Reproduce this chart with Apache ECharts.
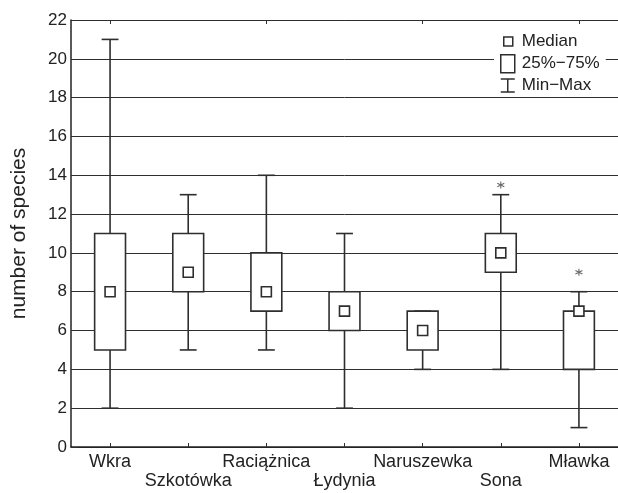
<!DOCTYPE html>
<html>
<head>
<meta charset="utf-8">
<script src="https://cdn.jsdelivr.net/npm/echarts@6/dist/echarts.min.js"></script>
<style>html,body{margin:0;padding:0;background:#fff;}#c{width:618px;height:493px;}</style>
</head>
<body>
<div id="c"></div>
<script>
const categories = ['Wkra', 'Szkotówka', 'Raciążnica', 'Łydynia', 'Naruszewka', 'Sona', 'Mławka'];
const minVals    = [2, 5, 5, 2, 4, 4, 1];
const q1Vals     = [5, 8, 7, 6, 5, 9, 4];
const medianVals = [8, 9, 8, 7, 6, 10, 7];
const q3Vals     = [11, 11, 10, 8, 7, 11, 7];
const maxVals    = [21, 13, 14, 11, 7, 13, 8];
const outlierCats = ['Sona', 'Mławka'];
const outlierVals = [13.5, 9];
const yMin = 0, yMax = 22, yStep = 2;
const legendNames = ['Median', '25%−75%', 'Min−Max'];

const INK = '#2e2e2e';
const FONT = 'Liberation Sans, Arial, sans-serif';

const whiskerData = categories.map((c, i) => [i, minVals[i], maxVals[i]]);
const boxData = categories.map((c, i) => [i, q1Vals[i], q3Vals[i]]);
const medianData = categories.map((c, i) => [i, medianVals[i]]);
const outlierData = outlierCats.map((c, k) => [categories.indexOf(c), outlierVals[k]]);

const chart = echarts.init(document.getElementById('c'), null, {renderer: 'canvas'});

const legendBase = {
  orient: 'horizontal',
  selectedMode: false,
  itemGap: 0,
  textStyle: {fontFamily: FONT, fontSize: 17, color: '#222'},
  itemStyle: {color: '#fff', borderColor: INK, borderWidth: 1.5}
};

chart.setOption({
  animation: false,
  backgroundColor: '#fff',
  grid: {left: 71, right: -2, top: 20, bottom: 46, containLabel: false},
  legend: [
    Object.assign({}, legendBase, {
      data: [{name: legendNames[0], icon: 'rect'}],
      left: 503, top: 33, itemWidth: 9, itemHeight: 9, padding: 0,
      textStyle: Object.assign({}, legendBase.textStyle, {padding: [0, 0, 0, 4]})
    }),
    Object.assign({}, legendBase, {
      data: [{name: legendNames[1], icon: 'rect'}],
      left: 494, top: 52, itemWidth: 14, itemHeight: 18, padding: [2, 6, 2, 6],
      backgroundColor: '#fff',
      textStyle: Object.assign({}, legendBase.textStyle, {padding: [0, 0, 0, 2]})
    }),
    Object.assign({}, legendBase, {
      data: [{name: legendNames[2], icon: 'path://M0 0H14M7 0V13M0 13H14'}],
      left: 500, top: 77, itemWidth: 14, itemHeight: 13, padding: 0,
      textStyle: Object.assign({}, legendBase.textStyle, {padding: [0, 0, 0, 2]})
    })
  ],
  xAxis: [
    {
      type: 'category', data: categories, boundaryGap: true, position: 'bottom',
      axisLine: {show: true, lineStyle: {color: '#222', width: 1.5}},
      axisTick: {show: true, inside: true, alignWithLabel: true, length: 4, lineStyle: {color: INK}},
      axisLabel: {
        fontFamily: FONT, fontSize: 18, color: '#222', margin: 6, lineHeight: 19,
        interval: 0,
        formatter: (v, i) => (i % 2 === 1 ? '\n' + v : v)
      },
      splitLine: {show: false}
    },
    {
      type: 'category', data: categories, boundaryGap: true, position: 'top',
      axisLine: {show: true, lineStyle: {color: INK, width: 1}},
      axisTick: {show: true, inside: true, alignWithLabel: true, length: 4, lineStyle: {color: INK}},
      axisLabel: {show: false},
      splitLine: {show: false}
    }
  ],
  yAxis: {
    type: 'value', min: yMin, max: yMax, interval: yStep,
    name: 'number of species', nameLocation: 'middle', nameGap: 41,
    nameTextStyle: {fontFamily: FONT, fontSize: 21, color: '#222'},
    axisLine: {show: true, lineStyle: {color: '#222', width: 1.5}},
    axisTick: {show: true, inside: true, length: 7, lineStyle: {color: INK}},
    axisLabel: {fontFamily: FONT, fontSize: 17, color: '#222', margin: 4},
    splitLine: {show: true, lineStyle: {color: INK, width: 1}}
  },
  series: [
    {
      name: legendNames[2], type: 'custom', xAxisIndex: 0, data: whiskerData,
      encode: {x: 0, y: [1, 2]}, z: 3,
      renderItem: (params, api) => {
        const x = api.value(0);
        const lo = api.coord([x, api.value(1)]);
        const hi = api.coord([x, api.value(2)]);
        const half = api.size([1, 0])[0] * 0.108;
        const st = {stroke: INK, lineWidth: 1.6};
        return {type: 'group', children: [
          {type: 'line', shape: {x1: lo[0], y1: lo[1], x2: hi[0], y2: hi[1]}, style: st},
          {type: 'line', shape: {x1: lo[0] - half, y1: lo[1], x2: lo[0] + half, y2: lo[1]}, style: st},
          {type: 'line', shape: {x1: hi[0] - half, y1: hi[1], x2: hi[0] + half, y2: hi[1]}, style: st}
        ]};
      }
    },
    {
      name: legendNames[1], type: 'custom', xAxisIndex: 0, data: boxData,
      encode: {x: 0, y: [1, 2]}, z: 4,
      renderItem: (params, api) => {
        const x = api.value(0);
        const lo = api.coord([x, api.value(1)]);
        const hi = api.coord([x, api.value(2)]);
        const w = api.size([1, 0])[0] * 0.395;
        return {type: 'rect',
          shape: {x: lo[0] - w / 2, y: hi[1], width: w, height: lo[1] - hi[1]},
          style: {fill: '#fff', stroke: INK, lineWidth: 1.6}};
      }
    },
    {
      name: legendNames[0], type: 'custom', xAxisIndex: 0, data: medianData,
      encode: {x: 0, y: 1}, z: 5,
      renderItem: (params, api) => {
        const p = api.coord([api.value(0), api.value(1)]);
        const s = 10;
        return {type: 'rect',
          shape: {x: p[0] - s / 2, y: p[1] - s / 2, width: s, height: s},
          style: {fill: '#fff', stroke: INK, lineWidth: 1.6}};
      }
    },
    {
      name: 'outliers', type: 'scatter', xAxisIndex: 0, data: outlierData,
      symbol: 'path://M5 0V10M0.67 2.5L9.33 7.5M0.67 7.5L9.33 2.5',
      symbolSize: 7, z: 6,
      itemStyle: {color: 'none', borderColor: '#444', borderWidth: 1.1}
    }
  ]
});
</script>
</body>
</html>
